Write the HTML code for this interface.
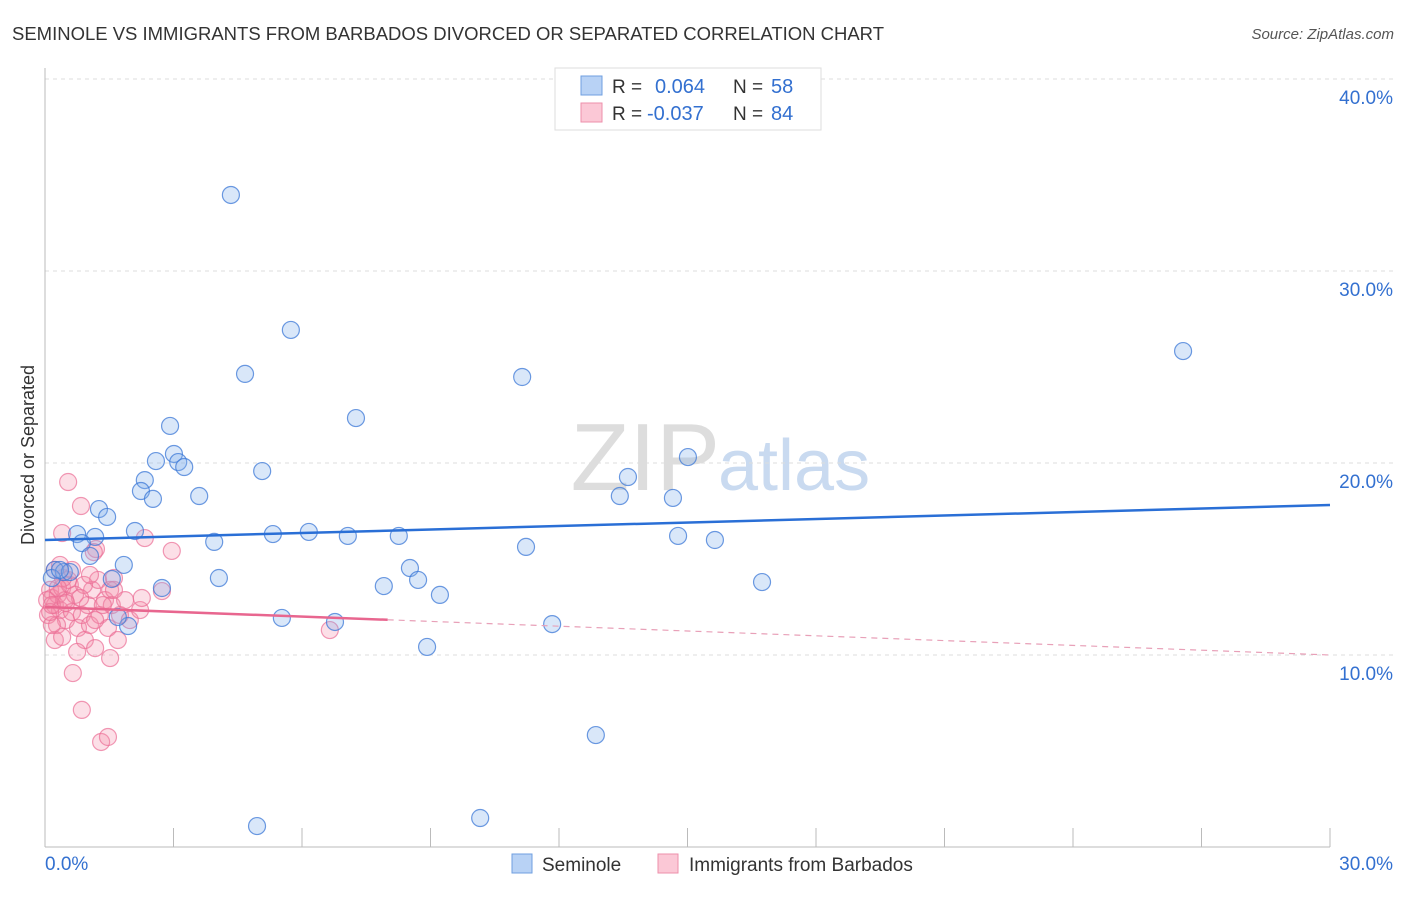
<!DOCTYPE html>
<html><head><meta charset="utf-8"><style>
body{margin:0;background:#fff;font-family:"Liberation Sans",sans-serif;}
svg text{font-family:"Liberation Sans",sans-serif;}
</style></head><body>
<svg id="chart" width="1406" height="892">
<text x="12" y="40" font-size="18" fill="#333" textLength="872" lengthAdjust="spacingAndGlyphs">SEMINOLE VS IMMIGRANTS FROM BARBADOS DIVORCED OR SEPARATED CORRELATION CHART</text>
<text x="1394" y="39" font-size="15" fill="#555" text-anchor="end" font-style="italic">Source: ZipAtlas.com</text>
<text x="720" y="490" font-size="96" fill="#ddd" text-anchor="end" font-family="Liberation Serif">ZIP</text>
<text x="718" y="490" font-size="72" fill="#c9daf0">atlas</text>
<g id="grid"></g>
<g id="axes"></g>
<g id="pts"></g>
<g id="trend"></g>
<text x="34" y="455" font-size="18" fill="#333" text-anchor="middle" transform="rotate(-90 34 455)">Divorced or Separated</text>
<g>
<rect x="555" y="68" width="266" height="62" fill="#fff" stroke="#ddd"/>
<rect x="581" y="76" width="21" height="19" fill="#b8d2f5" stroke="#6f9fe0"/>
<rect x="581" y="103" width="21" height="19" fill="#fbc8d6" stroke="#ee8fab"/>
<text x="612" y="93" font-size="19" fill="#333">R =</text><text x="655" y="93" font-size="20" fill="#3370d0">0.064</text>
<text x="733" y="93" font-size="19" fill="#333">N =</text><text x="771" y="93" font-size="20" fill="#3370d0">58</text>
<text x="612" y="120" font-size="19" fill="#333">R =</text><text x="647" y="120" font-size="20" fill="#3370d0">-0.037</text>
<text x="733" y="120" font-size="19" fill="#333">N =</text><text x="771" y="120" font-size="20" fill="#3370d0">84</text>
</g>
<g>
<rect x="512" y="854" width="20" height="19" fill="#b8d2f5" stroke="#6f9fe0"/>
<text x="542" y="871" font-size="19" fill="#333">Seminole</text>
<rect x="658" y="854" width="20" height="19" fill="#fbc8d6" stroke="#ee8fab"/>
<text x="689" y="871" font-size="19" fill="#333">Immigrants from Barbados</text>
</g>
</svg>
<script>
const xTicksLabels=["0.0%","30.0%"];
const yTicks=[10,20,30,40];
const blueX=[4.34,5.74,4.67,11.14,7.26,26.57,2.92,3.01,2.59,3.11,3.25,5.07,15.01,13.61,2.33,2.24,2.52,3.60,13.42,14.66,1.26,1.45,2.10,0.75,1.17,0.86,1.05,3.95,5.32,6.16,7.07,8.26,11.23,14.78,15.64,1.84,8.52,0.23,0.44,0.58,4.06,1.56,7.91,8.71,16.74,0.16,2.73,9.22,5.53,6.77,11.84,1.94,1.70,8.92,12.86,4.95,10.16,0.35];
const blueY=[33.96,26.93,24.64,24.48,22.34,25.83,21.93,20.47,20.10,20.05,19.79,19.58,20.31,19.27,19.11,18.54,18.13,18.28,18.28,18.18,17.60,17.19,16.46,16.30,16.15,15.83,15.16,15.89,16.30,16.41,16.20,16.20,15.63,16.20,15.99,14.69,14.53,14.43,14.32,14.32,14.01,13.96,13.59,13.91,13.80,14.01,13.49,13.13,11.93,11.72,11.61,11.51,11.98,10.42,5.83,1.09,1.51,14.43];
const pinkX=[0.54,0.84,0.40,1.19,2.33,2.96,1.14,2.73,0.12,0.16,0.23,0.30,0.35,0.40,0.07,0.47,0.58,0.49,0.63,0.70,0.54,0.28,0.23,0.40,0.77,0.86,1.00,1.10,1.24,0.93,1.17,0.75,1.05,1.28,1.40,1.52,1.56,1.47,1.75,1.61,1.87,1.98,1.70,1.52,2.22,2.26,0.16,0.05,0.12,0.42,0.65,0.86,1.31,1.47,0.23,0.35,0.63,0.91,1.05,1.35,1.17,1.61,6.65,0.82,0.16,0.30,0.49];
const pinkY=[19.01,17.76,16.35,15.52,16.09,15.42,15.36,13.33,13.39,12.97,12.60,13.13,12.34,13.49,12.08,12.86,13.65,11.82,12.24,13.13,13.91,11.56,10.78,10.94,11.41,12.08,12.60,13.39,13.91,10.78,10.36,10.16,11.56,12.08,12.86,13.39,12.60,11.41,12.08,13.39,12.86,11.82,10.78,9.84,12.34,12.97,11.56,12.86,12.24,14.01,9.06,7.14,5.47,5.73,14.43,14.69,14.43,13.65,14.17,12.60,11.82,14.01,11.30,12.97,12.60,13.49,12.71];
const blueTrend=[15.99,17.81];
const pinkTrend=[12.5,10.0];
const pinkSolidEnd=8.0;
const NS="http://www.w3.org/2000/svg";
const X=v=>45+v/30*1285, Y=v=>847-v*19.2;
function mk(t,a,p){const e=document.createElementNS(NS,t);for(const k in a)e.setAttribute(k,a[k]);document.getElementById(p).appendChild(e);return e;}
yTicks.forEach(t=>{
 const l=mk('line',{x1:45,x2:1393,y1:Y(t),y2:Y(t),stroke:'#ddd','stroke-dasharray':'4,4'},'grid');
 
 
 const tx=mk('text',{x:1393,y:Y(t)+25,'font-size':19,fill:'#3370d0','text-anchor':'end'},'grid');tx.textContent=t.toFixed(1)+'%';
 
 
});
mk('line',{x1:45,x2:45,y1:68,y2:847,stroke:'#bbb'},'axes');
mk('line',{x1:45,x2:1330,y1:847,y2:847,stroke:'#bbb'},'axes');
for(let i=1;i<=10;i++){const x=45+i*128.5;mk('line',{x1:x,x2:x,y1:828,y2:847,stroke:'#bbb'},'axes');}
[[0,'start'],[30,'end']].forEach((d,i)=>{const t=mk('text',{x:i?1393:45,y:870,'font-size':19,fill:'#3370d0','text-anchor':d[1]},'axes');t.textContent=xTicksLabels[i];
 
 });
pinkX.forEach((v,i)=>{const c=mk('circle',{cx:X(v),cy:Y(pinkY[i]),r:8.5,fill:'rgba(245,140,170,0.28)',stroke:'rgba(235,110,150,0.7)','stroke-width':1.2},'pts');
 
 });
blueX.forEach((v,i)=>{const c=mk('circle',{cx:X(v),cy:Y(blueY[i]),r:8.5,fill:'rgba(130,175,235,0.3)',stroke:'rgba(60,120,215,0.75)','stroke-width':1.2},'pts');
 
 });
const bt=mk('line',{x1:X(0),y1:Y(blueTrend[0]),x2:X(30),y2:Y(blueTrend[1]),stroke:'#2a6fd6','stroke-width':2.5},'trend');


const pe=pinkTrend[0]+(pinkTrend[1]-pinkTrend[0])*pinkSolidEnd/30;
const ps=mk('line',{x1:X(0),y1:Y(pinkTrend[0]),x2:X(pinkSolidEnd),y2:Y(pe),stroke:'#e8668f','stroke-width':2.5},'trend');


const pd=mk('line',{x1:X(pinkSolidEnd),y1:Y(pe),x2:X(30),y2:Y(pinkTrend[1]),stroke:'#e8a0b8','stroke-width':1.2,'stroke-dasharray':'6,5'},'trend');


</script>
</body></html>
